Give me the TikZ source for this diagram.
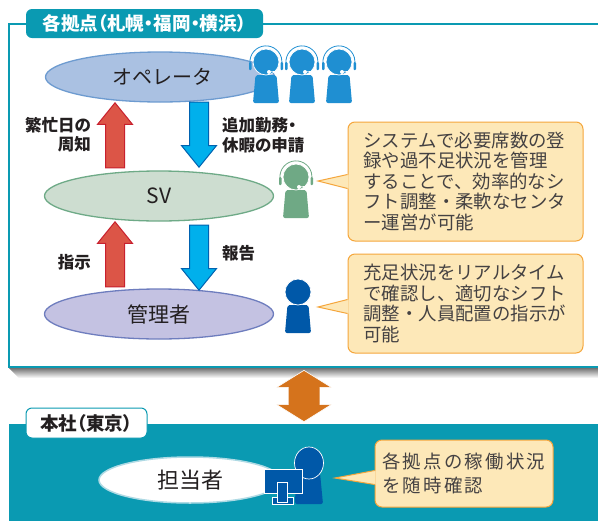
\documentclass[tikz,border=0pt]{standalone}
\usepackage{fontspec}
\setmainfont{Noto Sans CJK JP}
\newfontfamily\propfont[RawFeature=+palt]{Noto Sans CJK JP}
\usetikzlibrary{shapes.geometric, shapes.arrows, positioning, calc}
\definecolor{teal}{HTML}{0A9AB2}
\definecolor{notefill}{HTML}{FDE8B8}
\definecolor{noteline}{HTML}{F5A63C}
\definecolor{opblue}{HTML}{1F8FD2}
\definecolor{svgreen}{HTML}{6FA985}
\definecolor{mgblue}{HTML}{0058A8}
\definecolor{inktext}{HTML}{231F20}
\tikzset{
    oval/.style={draw, ellipse, line width=1.3pt, minimum width=229pt, minimum height=50pt, inner sep=0pt,
        text=inktext, font=\fontsize{20}{22}\selectfont},
    upred/.style={single arrow, shape border rotate=90, anchor=tip, draw={rgb,255:red,200;green,32;blue,46}, line width=1pt,
        fill={rgb,255:red,220;green,85;blue,71}, minimum height=65pt, minimum width=34pt, inner sep=9pt,
        single arrow head extend=8pt, single arrow tip angle=78},
    downblue/.style={upred, shape border rotate=270, draw={rgb,255:red,0;green,98;blue,176},
        fill={rgb,255:red,0;green,176;blue,236}},
    sidelabel/.style={align=left, text=inktext, inner sep=0pt,
        font=\propfont\bfseries\fontsize{16.5}{19.5}\selectfont},
    note/.style={draw=noteline, fill=notefill, line width=1pt, rounded corners=7pt, align=left, inner sep=0pt,
        text=inktext!85!white, font=\fontsize{18.4}{20.5}\selectfont},
    tag/.style={rounded corners=6pt, inner sep=0pt, font=\propfont\bfseries\fontsize{18.5}{20}\selectfont},
    pics/staff/.style={code={
        \fill[#1, rounded corners=2pt] (-10.5,13) -- (10.5,13) -- (13,41) -- (-13,41) -- cycle;
        \draw[white, fill=#1, line width=.7pt] (0,0) circle[radius=13pt];
    }},
    pics/headset/.style={code={
        \draw[#1, line width=.8pt] (-15.5,4) arc[start angle=195, end angle=-15, radius=16pt];
        \fill[#1, rounded corners=1pt] (-17,0) rectangle (-14.5,8);
        \fill[#1, rounded corners=1pt] (14.5,0) rectangle (17,8);
        \draw[white, line width=.7pt] (13,9) -- (3,10);
        \fill[white] (3,10) circle[radius=2pt];
    }}
}
\newcommand{\notetip}[3]{%
    \fill[notefill] ($(#1.west)+(1,#3-7)$) -- (#2) -- ($(#1.west)+(1,#3+7)$) -- cycle;
    \draw[noteline, line width=1pt] ($(#1.west)+(0,#3-7)$) -- (#2) -- ($(#1.west)+(0,#3+7)$);
}
\begin{document}
\begin{tikzpicture}[x=1pt, y=-1pt]
\useasboundingbox (0,0) rectangle (598,523);
\fill[white] (0,0) rectangle (598,523);

% Rahmen oben
\shade[top color=black!55, bottom color=white] (9,368) -- (598,368) -- (598,378) -- (19,378) -- cycle;
\draw[teal, line width=2pt] (598,24) -- (9,24) -- (9,367) -- (598,367);
\node[tag, fill=teal, text=white, minimum width=237pt, minimum height=29pt] (sitetag) at (144.5,23.5) {各拠点（札幌・福岡・横浜）};

% Ovale
\node[oval, draw={rgb,255:red,109;green,155;blue,208}, fill={rgb,255:red,170;green,193;blue,226}] (oper) at (160,77) {\hspace*{5pt}オペレータ};
\node[oval, draw={rgb,255:red,110;green,170;blue,135}, fill={rgb,255:red,205;green,221;blue,208}] (sv) at (159,196) {\raisebox{-1.5pt}{\fontsize{21}{22}\selectfont SV}};
\node[oval, draw={rgb,255:red,110;green,125;blue,190}, fill={rgb,255:red,196;green,194;blue,226}] (mgr) at (159,314) {\fontsize{21}{22}\selectfont 管理者};

% Pfeile
\node[upred] (upone) at (115,102) {};
\node[downblue] (downone) at (199,168) {};
\node[upred] (uptwo) at (115,221) {};
\node[downblue] (downtwo) at (199,291) {};

% Beschriftung
\node[sidelabel, align=right, anchor=east] (busy) at (91,135) {繁忙日の\\周知};
\node[sidelabel, anchor=west] (request) at (222,135) {追加勤務・\\休暇の申請};
\node[sidelabel, anchor=east] (order) at (91,262) {指示};
\node[sidelabel, anchor=west] (report) at (222,253) {報告};

% Personen
\pic at (266,62) {staff=opblue};
\pic at (266,62) {headset=opblue};
\pic at (302,62) {staff=opblue};
\pic at (302,62) {headset=opblue};
\pic at (339,62) {staff=opblue};
\pic at (339,62) {headset=opblue};
\pic at (296,177) {staff=svgreen};
\pic at (296,177) {headset=svgreen};
\pic at (298,292) {staff=mgblue};

% Sprechblasen
\node[note, minimum width=235pt, minimum height=119pt, text width=204pt] (noteone) at (465.5,181.5) {システムで必要席数の登\\録や過不足状況を管理\\することで、効率的なシ\\フト調整・柔軟なセンタ\\ー運営が可能};
\coordinate (tipone) at (318,181);
\notetip{noteone}{tipone}{0}
\node[note, minimum width=235pt, minimum height=99pt, text width=204pt] (notetwo) at (465.5,303.5) {充足状況をリアルタイム\\で確認し、適切なシフト\\調整・人員配置の指示が\\可能};
\coordinate (tiptwo) at (318,307);
\notetip{notetwo}{tiptwo}{3}

% Doppelpfeil
\node[double arrow, shape border rotate=90, draw=white, line width=.6pt, fill={rgb,255:red,213;green,115;blue,28},
    minimum height=50pt, minimum width=54pt, inner sep=15.5pt, double arrow head extend=11.5pt,
    double arrow tip angle=116] (link) at (304,396) {};

% Band unten
\fill[teal] (9,424) rectangle (598,521);
\node[tag, draw=teal, fill=white, text=inktext, line width=1pt, minimum width=121pt, minimum height=30pt] (hqtag) at (86.5,423) {本社（東京）};
\node[oval, draw={rgb,255:red,175;green,218;blue,228}, fill=white, minimum width=182pt, minimum height=46pt,
    font=\fontsize{22}{24}\selectfont, line width=1.5pt] (staff) at (190,480) {担当者};

% Person am Bildschirm
\fill[mgblue, rounded corners=2pt] (296,473) -- (320,473) -- (323,504) -- (295,504) -- cycle;
\draw[white, fill=mgblue, line width=.7pt] (309,463) ellipse[x radius=14.5, y radius=16];
\node[draw=white, fill=mgblue, line width=.7pt, minimum width=38pt, minimum height=24pt, inner sep=0pt] (screen) at (283,481.5) {};
\node[draw=white, fill=mgblue, line width=.7pt, minimum width=21pt, minimum height=7pt, inner sep=0pt] (foot) at (282.5,500.5) {};
\node[draw=white, fill=mgblue, line width=.7pt, minimum width=10pt, minimum height=20pt, inner sep=0pt] (stand) at (282.5,492) {};

\node[note, minimum width=178pt, minimum height=67pt, text width=164pt, font=\fontsize{18.4}{24}\selectfont] (notethree) at (464,473.5) {\addfontfeature{LetterSpace=12.5}各拠点の稼働状況\\を随時確認};
\coordinate (tipthree) at (335,478);
\notetip{notethree}{tipthree}{4}
\end{tikzpicture}
\end{document}
